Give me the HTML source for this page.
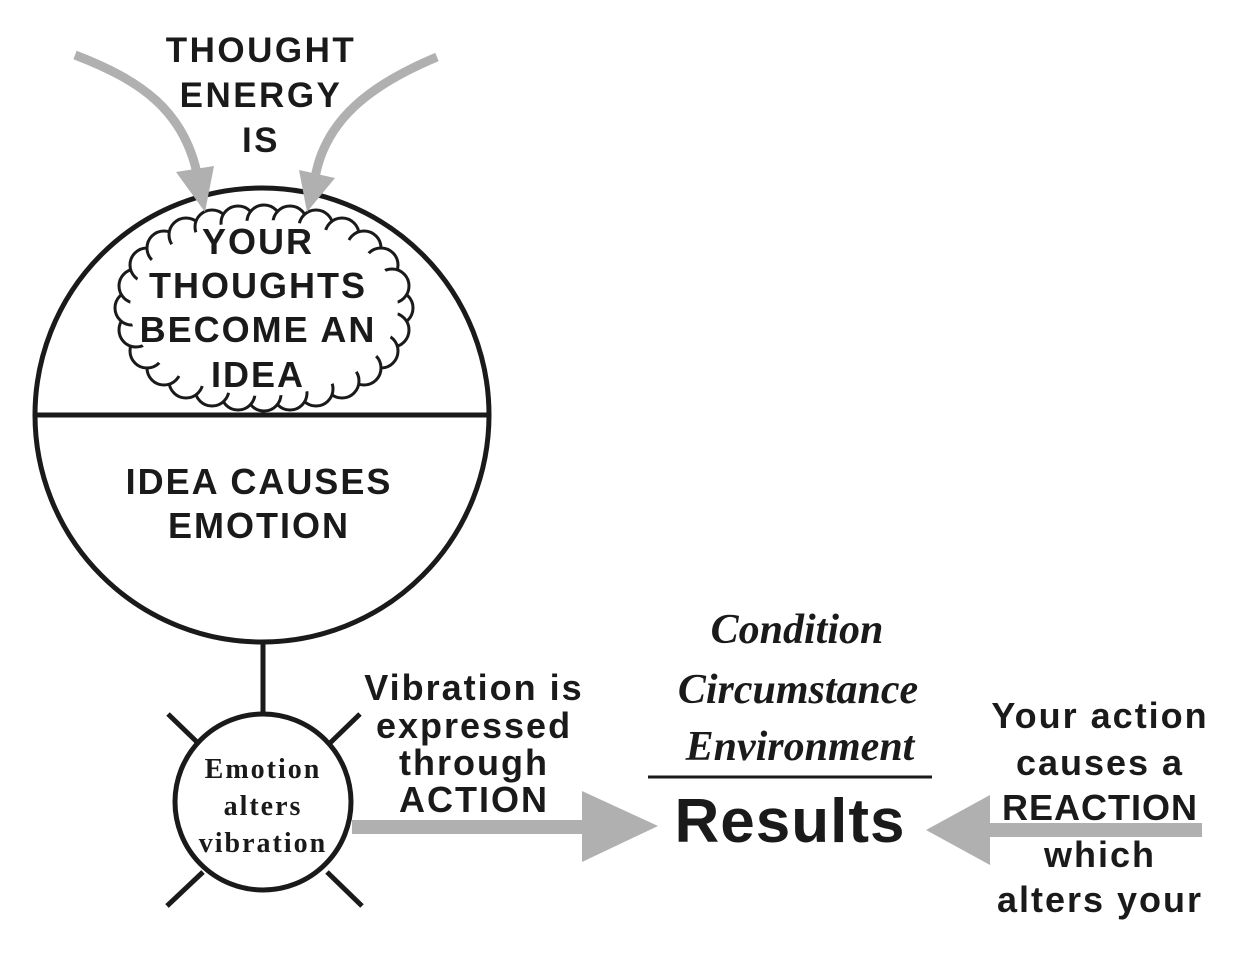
<!DOCTYPE html>
<html><head><meta charset="utf-8"><style>
html,body{margin:0;padding:0;background:#fff;}
svg{display:block;}
.s{font-family:"Liberation Sans",Arial,sans-serif;font-weight:bold;fill:#1a1a1a;text-anchor:middle;}
.r{font-family:"Liberation Serif",serif;font-weight:bold;fill:#1a1a1a;text-anchor:middle;letter-spacing:2px;}
.c{font-family:"Liberation Serif",serif;font-weight:bold;font-style:italic;fill:#1a1a1a;text-anchor:middle;}
</style></head><body>
<svg width="1252" height="960" viewBox="0 0 1252 960" xmlns="http://www.w3.org/2000/svg">
<rect width="1252" height="960" fill="#fff"/>
<circle cx="262" cy="415" r="227" fill="#fff" stroke="#1a1a1a" stroke-width="5"/>
<line x1="34" y1="415" x2="490" y2="415" stroke="#1a1a1a" stroke-width="5"/>
<g fill="#fff" stroke="#1a1a1a" stroke-width="3">
<circle cx="396" cy="308" r="17"/><circle cx="392" cy="330" r="17"/><circle cx="381" cy="351" r="17"/><circle cx="364" cy="368" r="17"/>
<circle cx="342" cy="381" r="17"/><circle cx="316" cy="389" r="17"/><circle cx="290" cy="393" r="17"/><circle cx="264" cy="394" r="17"/>
<circle cx="238" cy="393" r="17"/><circle cx="212" cy="389" r="17"/><circle cx="186" cy="381" r="17"/><circle cx="164" cy="368" r="17"/>
<circle cx="147" cy="351" r="17"/><circle cx="136" cy="330" r="17"/><circle cx="132" cy="308" r="17"/><circle cx="136" cy="286" r="17"/>
<circle cx="147" cy="265" r="17"/><circle cx="164" cy="248" r="17"/><circle cx="186" cy="235" r="17"/><circle cx="212" cy="227" r="17"/>
<circle cx="238" cy="223" r="17"/><circle cx="264" cy="222" r="17"/><circle cx="290" cy="223" r="17"/><circle cx="316" cy="227" r="17"/>
<circle cx="342" cy="235" r="17"/><circle cx="364" cy="248" r="17"/><circle cx="381" cy="265" r="17"/><circle cx="392" cy="286" r="17"/>
</g>
<ellipse cx="264" cy="308" rx="134" ry="88" fill="#fff"/>
<g fill="none" stroke="#b0b0b0" stroke-width="9">
<path d="M75 55 C140 80 185 110 198 178"/>
<path d="M437 57 C370 85 325 120 315 178"/>
</g>
<polygon points="176,172 214,166 205,212" fill="#b0b0b0"/>
<polygon points="299,170 335,178 307,212" fill="#b0b0b0"/>
<text class="s" x="261" y="62" font-size="35" letter-spacing="2.5">THOUGHT</text>
<text class="s" x="261" y="107" font-size="35" letter-spacing="2.5">ENERGY</text>
<text class="s" x="261" y="152" font-size="35" letter-spacing="2.5">IS</text>
<text class="s" x="258" y="254" font-size="36" letter-spacing="2">YOUR</text>
<text class="s" x="258" y="298" font-size="36" letter-spacing="2">THOUGHTS</text>
<text class="s" x="258" y="342" font-size="36" letter-spacing="2">BECOME AN</text>
<text class="s" x="258" y="387" font-size="36" letter-spacing="2">IDEA</text>
<text class="s" x="259" y="494" font-size="36" letter-spacing="2">IDEA CAUSES</text>
<text class="s" x="259" y="538" font-size="36" letter-spacing="2">EMOTION</text>
<line x1="263" y1="642" x2="263" y2="712" stroke="#1a1a1a" stroke-width="5"/>
<g stroke="#1a1a1a" stroke-width="5">
<line x1="168" y1="714" x2="198" y2="743"/>
<line x1="360" y1="714" x2="330" y2="743"/>
<line x1="167" y1="906" x2="203" y2="872"/>
<line x1="362" y1="906" x2="327" y2="872"/>
</g>
<circle cx="263" cy="802" r="88" fill="#fff" stroke="#1a1a1a" stroke-width="5"/>
<text class="r" x="263" y="778" font-size="28">Emotion</text>
<text class="r" x="263" y="815" font-size="28">alters</text>
<text class="r" x="263" y="852" font-size="28">vibration</text>
<rect x="352" y="820" width="232" height="14" fill="#b0b0b0"/>
<polygon points="582,791 658,826 582,862" fill="#b0b0b0"/>
<text class="s" x="474" y="700" font-size="36" letter-spacing="2">Vibration is</text>
<text class="s" x="474" y="738" font-size="36" letter-spacing="2">expressed</text>
<text class="s" x="474" y="775" font-size="36" letter-spacing="2">through</text>
<text class="s" x="474" y="812" font-size="36" letter-spacing="2">ACTION</text>
<text class="c" x="797" y="643" font-size="42">Condition</text>
<text class="c" x="798" y="703" font-size="42">Circumstance</text>
<text class="c" x="800" y="760" font-size="42">Environment</text>
<line x1="648" y1="777" x2="932" y2="777" stroke="#1a1a1a" stroke-width="3"/>
<text class="s" x="790" y="842" font-size="62" letter-spacing="1">Results</text>
<rect x="988" y="823" width="214" height="14" fill="#b0b0b0"/>
<polygon points="990,795 926,830 990,865" fill="#b0b0b0"/>
<text class="s" x="1100" y="728" font-size="36" letter-spacing="2">Your action</text>
<text class="s" x="1100" y="775" font-size="36" letter-spacing="2">causes a</text>
<text class="s" x="1100" y="820" font-size="36" letter-spacing="1">REACTION</text>
<text class="s" x="1100" y="867" font-size="36" letter-spacing="2">which</text>
<text class="s" x="1100" y="912" font-size="36" letter-spacing="2">alters your</text>
</svg>
</body></html>
